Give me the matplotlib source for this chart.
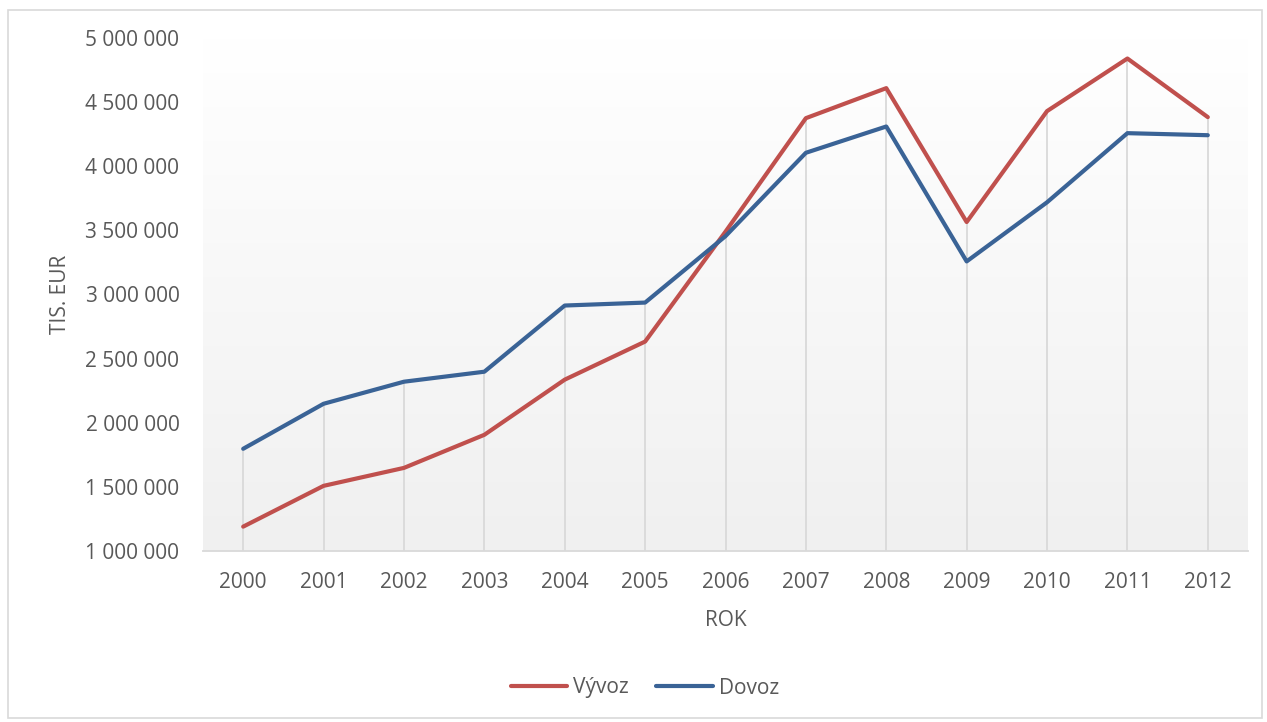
import numpy as np
import matplotlib.pyplot as plt
from matplotlib.patches import Rectangle
from matplotlib.ticker import FuncFormatter

roky = ['2000', '2001', '2002', '2003', '2004', '2005', '2006',
        '2007', '2008', '2009', '2010', '2011', '2012']
vyvoz = [1190000, 1508000, 1648000, 1906000, 2336000, 2633000, 3490000,
         4375000, 4609000, 3565000, 4430000, 4840000, 4383000]
dovoz = [1797000, 2148000, 2320000, 2398000, 2914000, 2937000, 3455000,
         4105000, 4310000, 3258000, 3719000, 4258000, 4242000]

plt.rcParams['font.family'] = ['Open Sans', 'DejaVu Sans']
text_col = '#595959'
fs = 15

fig = plt.figure(figsize=(12.67, 7.22), dpi=100)
ax = fig.add_axes([203 / 1267, 1 - 551 / 722, 1045 / 1267, 513 / 722])

x = np.arange(len(roky))

# pozadi s prechodem
grad = np.linspace(1, 0, 256).reshape(-1, 1)
ax.imshow(grad, extent=[-0.5, 12.5, 1000000, 5000000], aspect='auto',
          cmap=plt.matplotlib.colors.LinearSegmentedColormap.from_list(
              'g', ['#f0f0f0', '#ffffff']), zorder=0, origin='upper')

# svisle spojnice k ose
top = np.maximum(vyvoz, dovoz)
ax.vlines(x, 1000000, top, color='#d9d9d9', lw=1.3, zorder=1)

ax.plot(x, vyvoz, color='#c0504d', lw=3, label='Vývoz', zorder=3,
        solid_capstyle='round')
ax.plot(x, dovoz, color='#3a6396', lw=3, label='Dovoz', zorder=3,
        solid_capstyle='round')

ax.set_xlim(-0.5, 12.5)
ax.set_ylim(1000000, 5000000)
ax.set_xticks(x)
ax.set_xticklabels(roky)
ax.set_yticks(np.arange(1000000, 5000001, 500000))
ax.yaxis.set_major_formatter(FuncFormatter(lambda v, p: f'{int(v):,}'.replace(',', ' ')))
ax.tick_params(axis='both', length=0, labelsize=fs, colors=text_col)
ax.tick_params(axis='y', pad=17)
ax.tick_params(axis='x', pad=15)

for s in ['top', 'right', 'left']:
    ax.spines[s].set_visible(False)
ax.spines['bottom'].set_color('#d9d9d9')
ax.spines['bottom'].set_linewidth(1.3)

ax.set_xlabel('ROK', fontsize=fs, color=text_col, labelpad=12)
ax.set_ylabel('TIS. EUR', fontsize=fs, color=text_col, labelpad=10)

leg = fig.legend(loc='center', bbox_to_anchor=(645 / 1267, 1 - 688 / 722),
                 ncol=2, frameon=False, fontsize=fs, handlelength=2.7,
                 columnspacing=1.3, handletextpad=0.3)
for t in leg.get_texts():
    t.set_color(text_col)

fig.patches.append(Rectangle((8 / 1267, 4 / 722), 1254 / 1267, 708 / 722,
                             transform=fig.transFigure, fill=False,
                             edgecolor='#d9d9d9', lw=1.2))

fig.savefig('out.png', dpi=100)
